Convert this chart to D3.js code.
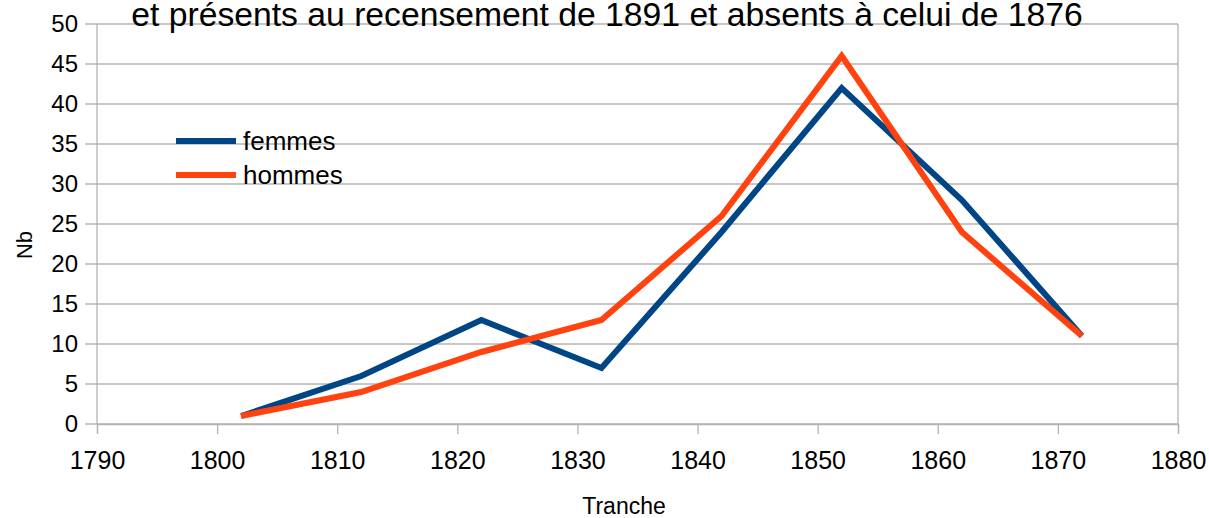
<!DOCTYPE html>
<html>
<head>
<meta charset="utf-8">
<script src="https://cdn.jsdelivr.net/npm/d3@7"></script>
<style>
  body { margin: 0; background: #fff; }
  svg { font-family: "Liberation Sans", Arial, sans-serif; }
</style>
</head>
<body>
<div id="chart"></div>
<script>
const width = 1209,
    height = 518;

// données
const years = [1802, 1812, 1822, 1832, 1842, 1852, 1862, 1872];
const femmes = [1, 6, 13, 7, 24, 42, 28, 11];
const hommes = [1, 4, 9, 13, 26, 46, 24, 11];
const xTicks = [1790, 1800, 1810, 1820, 1830, 1840, 1850, 1860, 1870, 1880];
const yTicks = [0, 5, 10, 15, 20, 25, 30, 35, 40, 45, 50];

const series = [
    { name: 'femmes', values: femmes, color: '#004586' },
    { name: 'hommes', values: hommes, color: '#ff420e' }
];

const margin = { left: 97, right: 31, top: 24, bottom: 94 };

const svg = d3.select('#chart')
    .append('svg')
    .attr('width', width)
    .attr('height', height);

const x = d3.scaleLinear()
    .domain([1790, 1880])
    .range([margin.left, width - margin.right]);

const y = d3.scaleLinear()
    .domain([0, 50])
    .range([height - margin.bottom, margin.top]);

// grille horizontale
svg.append('g')
    .selectAll('line')
    .data(yTicks)
    .enter()
    .append('line')
    .attr('x1', margin.left - 12)
    .attr('x2', width - margin.right)
    .attr('y1', d => y(d))
    .attr('y2', d => y(d))
    .attr('stroke', '#b3b3b3')
    .attr('stroke-width', 1.3);

// bords gauche / droit
[1790, 1880].forEach(function(v) {
    svg.append('line')
        .attr('x1', x(v)).attr('x2', x(v))
        .attr('y1', margin.top).attr('y2', y(0))
        .attr('stroke', '#b3b3b3').attr('stroke-width', 1.3);
});

// axe x
const xAxis = d3.axisBottom(x)
    .tickValues(xTicks)
    .tickFormat(d3.format('d'))
    .tickSize(10)
    .tickPadding(17);
const gx = svg.append('g')
    .attr('transform', `translate(0,${y(0)})`)
    .call(xAxis);
gx.select('.domain').attr('stroke', '#b3b3b3').attr('stroke-width', 1.3);
gx.selectAll('.tick line').attr('stroke', '#b3b3b3').attr('stroke-width', 1.3);
gx.selectAll('.tick text').attr('font-size', 25).attr('fill', '#000')
    .attr('font-family', '"Liberation Sans", Arial, sans-serif');

// axe y
const yAxis = d3.axisLeft(y)
    .tickValues(yTicks)
    .tickSize(0)
    .tickPadding(19);
const gy = svg.append('g')
    .attr('transform', `translate(${margin.left},0)`)
    .call(yAxis);
gy.select('.domain').remove();
gy.selectAll('.tick text').attr('font-size', 24).attr('fill', '#000')
    .attr('font-family', '"Liberation Sans", Arial, sans-serif');

// lignes
const line = d3.line()
    .x((d, i) => x(years[i]))
    .y(d => y(d));

svg.append('g')
    .selectAll('path')
    .data(series)
    .enter()
    .append('path')
    .attr('d', d => line(d.values))
    .attr('fill', 'none')
    .attr('stroke', d => d.color)
    .attr('stroke-width', 6)
    .attr('stroke-linejoin', 'miter');

// légende
const legend = svg.append('g')
    .selectAll('g')
    .data(series)
    .enter()
    .append('g')
    .attr('transform', (d, i) => `translate(176,${141 + i * 34})`);
legend.append('line')
    .attr('x1', 0).attr('x2', 60)
    .attr('stroke', d => d.color)
    .attr('stroke-width', 6);
legend.append('text')
    .attr('x', 67)
    .attr('y', 9)
    .attr('font-size', 26)
    .text(d => d.name);

// titre (première ligne hors cadre dans l'original)
svg.append('text')
    .attr('x', 607)
    .attr('y', 26)
    .attr('text-anchor', 'middle')
    .attr('font-size', 33.7)
    .text('et présents au recensement de 1891 et absents à celui de 1876');

// titres des axes
svg.append('text')
    .attr('x', 624)
    .attr('y', 514)
    .attr('text-anchor', 'middle')
    .attr('font-size', 23)
    .text('Tranche');

svg.append('text')
    .attr('transform', 'translate(32,245) rotate(-90)')
    .attr('text-anchor', 'middle')
    .attr('font-size', 22)
    .text('Nb');
</script>
</body>
</html>
